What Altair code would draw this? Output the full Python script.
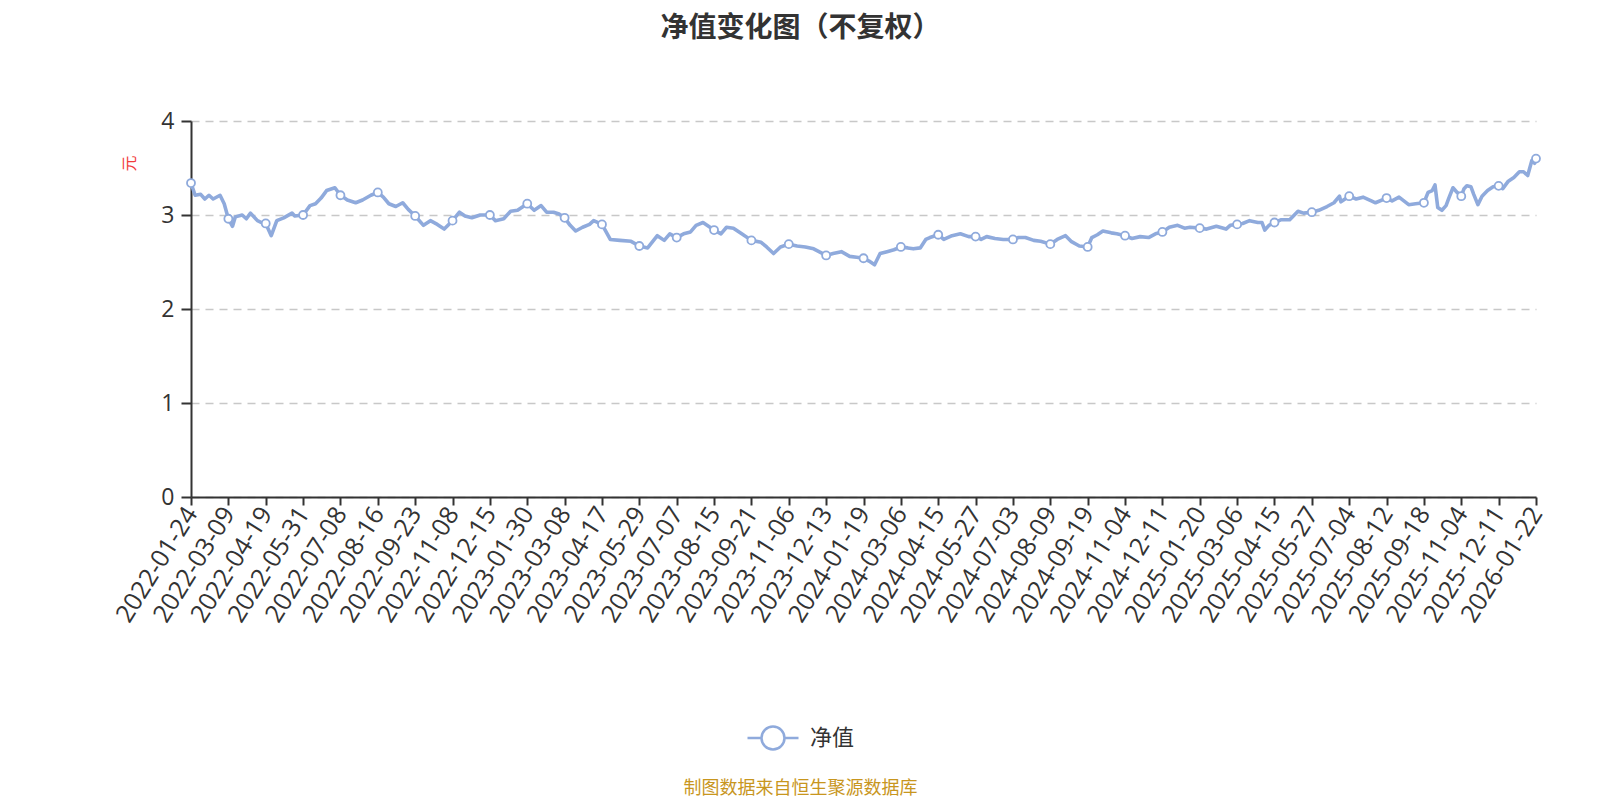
import altair as alt
import pandas as pd

# x-axis tick labels (one every 27 trading days)
LABELS = [
    "2022-01-24", "2022-03-09", "2022-04-19", "2022-05-31", "2022-07-08", "2022-08-16",
    "2022-09-23", "2022-11-08", "2022-12-15", "2023-01-30", "2023-03-08", "2023-04-17",
    "2023-05-29", "2023-07-07", "2023-08-15", "2023-09-21", "2023-11-06", "2023-12-13",
    "2024-01-19", "2024-03-06", "2024-04-15", "2024-05-27", "2024-07-03", "2024-08-09",
    "2024-09-19", "2024-11-04", "2024-12-11", "2025-01-20", "2025-03-06", "2025-04-15",
    "2025-05-27", "2025-07-04", "2025-08-12", "2025-09-18", "2025-11-04", "2025-12-11",
    "2026-01-22",
]
STEP = 27

# trading-day index and net asset value
DAY = [
    0, 3, 7, 10, 13, 16, 21, 24, 27, 30, 32, 37, 40, 43, 48, 51, 54, 58, 62, 67, 73, 75,
    81, 86, 90, 94, 98, 104, 108, 113, 119, 124, 130, 135, 139, 143, 148, 153, 157, 162,
    168, 173, 178, 183, 189, 194, 198, 203, 209, 216, 220, 226, 231, 236, 243, 248, 253,
    257, 262, 266, 270, 274, 278, 283, 288, 291, 297, 303, 310, 318, 324, 330, 337, 342,
    346, 351, 356, 361, 365, 370, 374, 378, 383, 387, 392, 398, 405, 412, 416, 421, 426,
    432, 438, 444, 450, 459, 464, 470, 476, 481, 486, 490, 494, 498, 503, 508, 513, 518,
    522, 527, 531, 534, 540, 544, 550, 556, 562, 567, 571, 575, 581, 587, 594, 598, 603,
    609, 614, 621, 626, 632, 636, 642, 648, 651, 655, 659, 665, 669, 675, 680, 686, 692,
    697, 702, 707, 713, 718, 722, 729, 734, 741, 748, 751, 756, 760, 765, 771, 774, 776,
    779, 783, 788, 794, 800, 804, 810, 815, 821, 826, 830, 831, 837, 842, 847, 853, 856,
    864, 868, 873, 880, 885, 891, 894, 897, 899, 901, 904, 907, 909, 912, 915, 918, 920,
    922, 925, 927, 930, 933, 937, 941, 945, 948, 952, 956, 960, 963, 966, 969, 971, 972,
]
NAV = [
    3.34, 3.21, 3.22, 3.17, 3.21, 3.17, 3.21, 3.12, 2.96, 2.88, 2.98, 3.00, 2.96, 3.02,
    2.94, 2.92, 2.91, 2.78, 2.94, 2.97, 3.02, 2.99, 3.00, 3.10, 3.12, 3.18, 3.26, 3.29,
    3.21, 3.16, 3.13, 3.16, 3.21, 3.24, 3.19, 3.12, 3.09, 3.13, 3.06, 2.99, 2.89, 2.94,
    2.90, 2.85, 2.94, 3.03, 2.99, 2.97, 3.00, 3.00, 2.94, 2.96, 3.04, 3.05, 3.12, 3.05,
    3.10, 3.03, 3.03, 3.01, 2.97, 2.89, 2.83, 2.87, 2.90, 2.94, 2.90, 2.74, 2.73, 2.72,
    2.67, 2.65, 2.78, 2.73, 2.80, 2.76, 2.80, 2.82, 2.89, 2.92, 2.88, 2.84, 2.80, 2.87,
    2.86, 2.80, 2.73, 2.71, 2.66, 2.59, 2.66, 2.69, 2.67, 2.66, 2.64, 2.57, 2.59, 2.61,
    2.56, 2.55, 2.54, 2.51, 2.47, 2.59, 2.61, 2.63, 2.66, 2.65, 2.64, 2.65, 2.74, 2.76,
    2.79, 2.74, 2.78, 2.80, 2.77, 2.77, 2.74, 2.77, 2.75, 2.74, 2.74, 2.76, 2.76, 2.73,
    2.72, 2.69, 2.74, 2.78, 2.72, 2.67, 2.66, 2.76, 2.79, 2.83, 2.81, 2.80, 2.78, 2.75,
    2.77, 2.76, 2.80, 2.82, 2.87, 2.89, 2.86, 2.87, 2.86, 2.85, 2.88, 2.85, 2.89, 2.90,
    2.91, 2.94, 2.92, 2.92, 2.84, 2.89, 2.92, 2.95, 2.95, 3.04, 3.02, 3.03, 3.05, 3.09,
    3.13, 3.20, 3.14, 3.20, 3.17, 3.19, 3.15, 3.13, 3.18, 3.15, 3.19, 3.11, 3.12, 3.13,
    3.24, 3.26, 3.32, 3.08, 3.05, 3.10, 3.18, 3.29, 3.24, 3.20, 3.28, 3.31, 3.30, 3.22,
    3.11, 3.20, 3.26, 3.30, 3.31, 3.28, 3.36, 3.40, 3.46, 3.46, 3.42, 3.58, 3.55, 3.60,
]

SERIES = "净值"
LINE_COLOR = "#8FAADC"

df = pd.DataFrame({"t": DAY, "nav": NAV, "series": SERIES})

label_expr = "[" + ",".join(f"'{s}'" for s in LABELS) + "][round(datum.value / %d)]" % STEP
last_day = STEP * (len(LABELS) - 1)

CJK = "Noto Sans CJK SC"
NUM = "Open Sans"

x_enc = alt.X(
    "t:Q",
    scale=alt.Scale(domain=[0, last_day], nice=False, zero=False),
    axis=alt.Axis(
        values=list(range(0, last_day + 1, STEP)),
        labelExpr=label_expr,
        labelAngle=-58,
        labelFontSize=25,
        labelFont=NUM,
        labelColor="#333333",
        labelPadding=4,
        labelOverlap=False,
        labelBound=False,
        labelFlush=False,
        domainColor="#333333",
        domainWidth=2,
        tickColor="#333333",
        tickWidth=2,
        tickSize=8,
        grid=False,
        title="制图数据来自恒生聚源数据库",
        titleFont=CJK,
        titleFontSize=18,
        titleFontWeight="normal",
        titleColor="#C8961E",
        titleX=609,
        titleY=291,
        titleAlign="center",
        titleBaseline="middle",
    ),
)

y_enc = alt.Y(
    "nav:Q",
    scale=alt.Scale(domain=[0, 4], nice=False, zero=True),
    axis=alt.Axis(
        values=[0, 1, 2, 3, 4],
        format="d",
        labelFontSize=23,
        labelFont=NUM,
        labelColor="#333333",
        labelPadding=7,
        domainColor="#333333",
        domainWidth=2,
        tickColor="#333333",
        tickWidth=2,
        tickSize=10,
        grid=True,
        gridColor="#c8c8c8",
        gridDash=[8, 6],
        gridWidth=1.5,
        title="元",
        titleFont=CJK,
        titleFontSize=16,
        titleFontWeight="normal",
        titleColor="#F23C3C",
        titleAngle=-90,
        titleX=-62,
        titleY=42,
        titleAlign="center",
        titleBaseline="middle",
    ),
)

LEGEND_SYMBOL = (
    "M -1 0 L -0.45 0 M 0.45 0 L 1 0 "
    "M -0.45 0 A 0.45 0.45 0 1 1 0.45 0 A 0.45 0.45 0 1 1 -0.45 0 Z"
)

line = alt.Chart(df).mark_line(strokeWidth=3.6, interpolate="linear", strokeJoin="round").encode(
    x=x_enc,
    y=y_enc,
    color=alt.Color(
        "series:N",
        scale=alt.Scale(domain=[SERIES], range=[LINE_COLOR]),
        legend=alt.Legend(
            orient="none",
            legendX=555,
            legendY=590,
            title=None,
            padding=0,
            symbolType=LEGEND_SYMBOL,
            symbolSize=2601,
            symbolStrokeWidth=2.5,
            symbolStrokeColor=LINE_COLOR,
            symbolFillColor="#ffffff",
            labelFontSize=22,
            labelFont=CJK,
            labelColor="#333333",
            labelOffset=10,
        ),
    ),
)

points = (
    alt.Chart(df)
    .transform_filter(f"datum.t % {STEP} == 0 || datum.t == {last_day}")
    .mark_point(shape="circle", filled=True, fill="#ffffff", fillOpacity=1,
                stroke=LINE_COLOR, strokeWidth=1.8, size=64, opacity=1)
    .encode(x=x_enc, y=y_enc)
)

chart = (
    alt.layer(line, points)
    .properties(
        width=1345,
        height=376,
        background="#ffffff",
        padding={"left": 183, "top": 113, "right": 56, "bottom": 303},
        autosize=alt.AutoSizeParams(type="none"),
        title=alt.TitleParams(
            "净值变化图（不复权）",
            font=CJK,
            fontSize=28,
            fontWeight="bold",
            color="#333333",
            anchor="middle",
            frame="group",
            dx=-63,
            offset=67,
        ),
    )
    .configure_view(stroke=None)
)

chart.save("out.html", embed_options={"renderer": "svg", "actions": False})
